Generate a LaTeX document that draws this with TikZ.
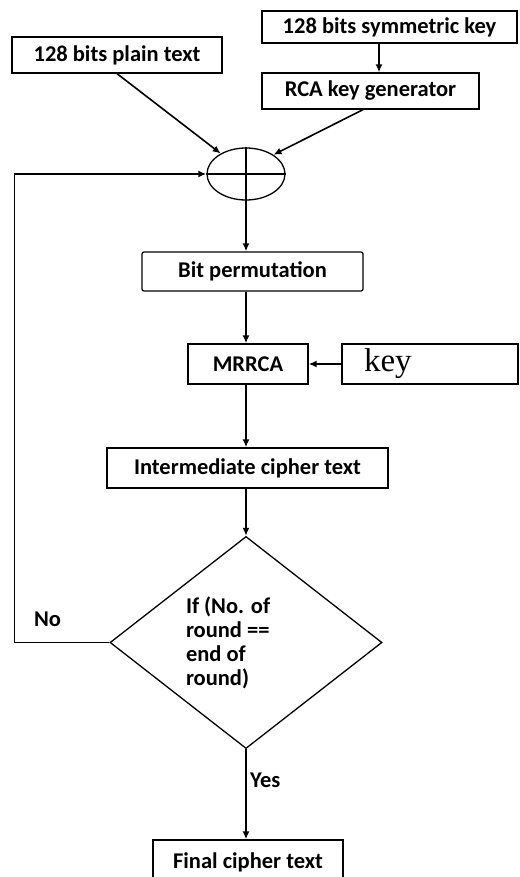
\documentclass[tikz,border=0pt]{standalone}
\usepackage{fontspec}
\setmainfont{Carlito}
\newfontfamily\keyfont{Liberation Serif}
\usetikzlibrary{shapes.geometric,arrows.meta}
\tikzset{
  block/.style={draw, line width=1.3pt, inner sep=0pt, font=\fontsize{22.5}{24}\selectfont\bfseries},
  flowline/.style={line width=1.6pt, -{Latex[length=8pt,width=7pt]}},
  lbl/.style={font=\fontsize{22.5}{24}\selectfont\bfseries}
}
\begin{document}
\begin{tikzpicture}[x=1pt, y=-1pt]
	\useasboundingbox (0,0) rectangle (519,877);
	\clip (0,0) rectangle (519,877);
	% inputs
	\node[block, minimum width=210pt, minimum height=36pt] (plain) at (117,55) {128 bits plain text};
	\node[block, minimum width=255pt, minimum height=32pt] (symkey) at (389.5,27) {128 bits symmetric key};
	\node[block, minimum width=217pt, minimum height=36pt] (rcagen) at (370.5,91) {RCA key generator};
	% xor
	\node[draw, ellipse, line width=1.3pt, minimum width=78pt, minimum height=52pt] (xor) at (246,174) {};
	\draw[line width=1.3pt] (xor.north) -- (xor.south);
	\draw[line width=1.3pt] (xor.west) -- (xor.east);
	% round
	\node[block, rounded corners=2pt, minimum width=221pt, minimum height=39pt] (perm) at (252.5,271.5) {Bit permutation};
	\node[block, minimum width=120pt, minimum height=40pt] (mrrca) at (248,364) {MRRCA};
	\node[draw, line width=1.3pt, minimum height=40pt, text width=132pt, inner xsep=22pt, inner ysep=0pt, align=left,
	      font=\keyfont\fontsize{33}{33}\selectfont] (keyin) at (430,364) {key};
	\node[block, minimum width=281pt, minimum height=40pt] (inter) at (247.5,468) {Intermediate cipher text};
	% decision
	\node[draw, diamond, line width=1.3pt, inner sep=0pt, minimum width=272pt, minimum height=201pt,
	      text width=120pt, align=flush left, font=\fontsize{22.5}{24}\selectfont\bfseries] (dec) at (246,642.5)
	      {If (No. of\\round ==\\end of\\round)};
	\node[block, minimum width=190pt, minimum height=44pt] (final) at (248,862) {Final cipher text};
	% connectors
	\draw[flowline] ([xshift=-10.5pt]symkey.south) -- ([xshift=8.5pt]rcagen.north);
	\draw[flowline] (plain.south) -- (xor.141);
	\draw[flowline] ([xshift=-7.5pt]rcagen.south) -- (xor.35);
	\draw[flowline] (xor.south) -- (xor.south |- perm.north);
	\draw[flowline] (xor.south |- perm.south) -- (xor.south |- mrrca.north);
	\draw[flowline] (keyin.west) -- (mrrca.east);
	\draw[flowline] (xor.south |- mrrca.south) -- (xor.south |- inter.north);
	\draw[flowline] (dec.north |- inter.south) -- (dec.north);
	\draw[flowline] (dec.south) -- (dec.south |- final.north) node[lbl, pos=0.35, anchor=west] (yes) {Yes};
	% loop back
	\draw[flowline] (dec.west) -- ++(-95,0) node[lbl, pos=0.65, above=12pt] (no) {No} |- (xor.west);
\end{tikzpicture}
\end{document}
